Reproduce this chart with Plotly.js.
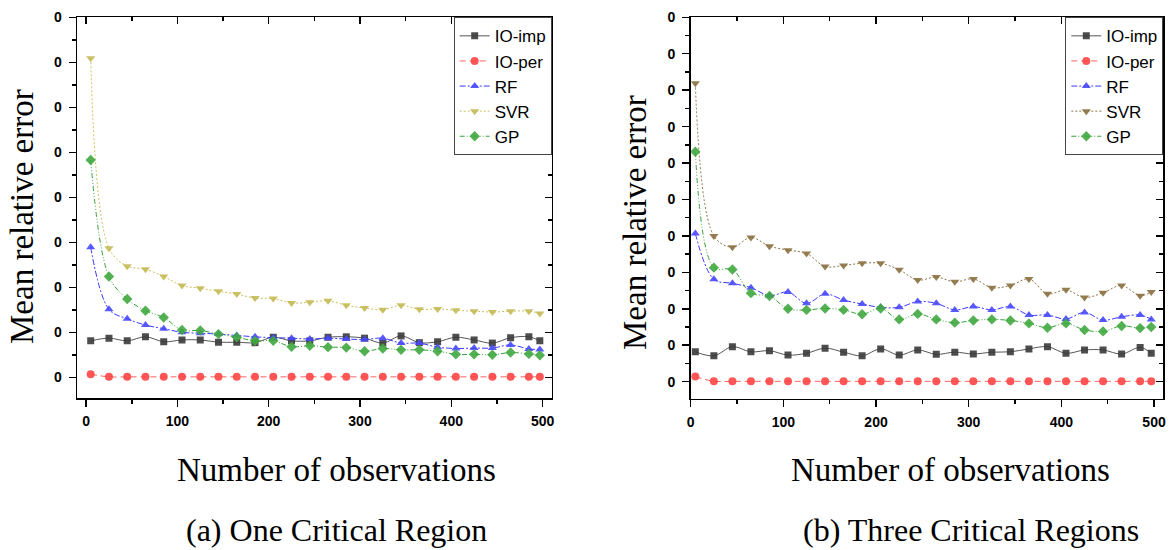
<!DOCTYPE html>
<html>
<head>
<meta charset="utf-8">
<script src="https://cdn.plot.ly/plotly-3.0.1.min.js"></script>
<style>html,body{margin:0;padding:0;background:#fff;}#chart{width:1171px;height:550px;}</style>
</head>
<body>
<div id="chart"></div>
<script>
// Number of observations (marker positions)
const observations = [5,25,45,65,85,105,125,145,165,185,205,225,245,265,285,305,325,345,365,385,405,425,445,465,485,497];

// (a) One Critical Region
const ioImpA = [0.081,0.087,0.081,0.090,0.079,0.083,0.083,0.078,0.078,0.077,0.089,0.081,0.081,0.089,0.090,0.087,0.076,0.092,0.077,0.079,0.089,0.083,0.076,0.088,0.090,0.081];
const ioPerA = [0.007,0.001,0.001,0.001,0.001,0.001,0.001,0.001,0.001,0.001,0.001,0.001,0.001,0.001,0.001,0.001,0.001,0.001,0.001,0.001,0.001,0.001,0.001,0.001,0.001,0.001];
const rfA    = [0.289,0.151,0.130,0.116,0.108,0.100,0.098,0.096,0.093,0.090,0.088,0.087,0.085,0.087,0.085,0.084,0.087,0.076,0.076,0.067,0.064,0.065,0.065,0.072,0.063,0.062];
const svrA   = [0.709,0.287,0.247,0.240,0.224,0.204,0.198,0.191,0.185,0.176,0.175,0.165,0.167,0.170,0.160,0.154,0.150,0.160,0.151,0.152,0.149,0.147,0.145,0.147,0.147,0.142];
const gpA    = [0.483,0.224,0.174,0.148,0.133,0.105,0.104,0.096,0.089,0.081,0.081,0.068,0.070,0.067,0.066,0.058,0.064,0.061,0.061,0.058,0.051,0.051,0.050,0.055,0.052,0.049];

// (b) Three Critical Regions
const ioImpB = [0.082,0.071,0.096,0.082,0.085,0.073,0.078,0.092,0.081,0.071,0.090,0.073,0.087,0.075,0.081,0.076,0.081,0.082,0.090,0.096,0.078,0.087,0.087,0.076,0.094,0.078];
const ioPerB = [0.014,0.001,0.001,0.001,0.001,0.001,0.001,0.001,0.001,0.001,0.001,0.001,0.001,0.001,0.001,0.001,0.001,0.001,0.001,0.001,0.001,0.001,0.001,0.001,0.001,0.001];
const rfB    = [0.407,0.281,0.270,0.258,0.236,0.246,0.215,0.241,0.224,0.213,0.204,0.204,0.220,0.215,0.197,0.206,0.197,0.206,0.183,0.183,0.172,0.190,0.169,0.178,0.183,0.171];
const svrB   = [0.819,0.400,0.369,0.396,0.372,0.361,0.352,0.316,0.319,0.325,0.325,0.307,0.279,0.287,0.274,0.282,0.258,0.264,0.282,0.241,0.252,0.231,0.244,0.264,0.236,0.246];
const gpB    = [0.631,0.313,0.308,0.243,0.235,0.200,0.197,0.201,0.197,0.185,0.201,0.171,0.186,0.171,0.162,0.168,0.171,0.168,0.160,0.148,0.160,0.142,0.138,0.153,0.147,0.150];

const seriesNames = ['IO-imp','IO-per','RF','SVR','GP'];
const yTickValsA = [0,0.1,0.2,0.3,0.4,0.5,0.6,0.7,0.8];
const yTickValsB = [0,0.1,0.2,0.3,0.4,0.5,0.6,0.7,0.8,0.9,1.0];
const yTickText = '0';
const xTickVals = [0,100,200,300,400,500];

const styles = [
  {line:{color:'#555555',width:1,dash:'solid',shape:'spline'}, marker:{symbol:'square',size:7,color:'#3a3a3a'}},
  {line:{color:'#ff6060',width:1,dash:'6px,4px',shape:'spline'}, marker:{symbol:'circle',size:8,color:'#ff4545'}},
  {line:{color:'#3a3aff',width:1,dash:'6px,2px,2px,2px',shape:'spline'}, marker:{symbol:'triangle-up',size:8,color:'#4848ff'}},
  {line:{color:'#c8bf5a',width:1,dash:'2px,2px',shape:'spline'}, marker:{symbol:'triangle-down',size:8,color:'#c4ba55'}},
  {line:{color:'#3aa03a',width:1,dash:'5px,2px,1px,2px,1px,2px',shape:'spline'}, marker:{symbol:'diamond',size:8,color:'#40a840'}}
];
const svrBrown = {line:{color:'#8c7346',width:1,dash:'2px,2px',shape:'spline'}, marker:{symbol:'triangle-down',size:8,color:'#8a7040'}};

function mk(name, y, st, xa, ya, legend){
  return {x:observations, y:y, name:name, type:'scatter', mode:'lines+markers',
    xaxis:xa, yaxis:ya, legend:legend, line:st.line,
    marker:Object.assign({opacity:0.9}, st.marker)};
}
const dataA = [ioImpA, ioPerA, rfA, svrA, gpA];
const dataB = [ioImpB, ioPerB, rfB, svrB, gpB];
const traces = [];
dataA.forEach((y,i)=>traces.push(mk(seriesNames[i], y, styles[i], 'x','y','legend')));
dataB.forEach((y,i)=>traces.push(mk(seriesNames[i], y, i===3?svrBrown:styles[i], 'x2','y2','legend2')));
// empty traces so that the mirror axes (inward ticks on top / right) are drawn
traces.push({x:[null],y:[null],xaxis:'x3',yaxis:'y',showlegend:false,hoverinfo:'skip',type:'scatter',mode:'lines'});
traces.push({x:[null],y:[null],xaxis:'x',yaxis:'y3',showlegend:false,hoverinfo:'skip',type:'scatter',mode:'lines'});
traces.push({x:[null],y:[null],xaxis:'x4',yaxis:'y2',showlegend:false,hoverinfo:'skip',type:'scatter',mode:'lines'});
traces.push({x:[null],y:[null],xaxis:'x2',yaxis:'y4',showlegend:false,hoverinfo:'skip',type:'scatter',mode:'lines'});

const tickFont = {family:'Liberation Sans, Arial, sans-serif', size:14, color:'#000', weight:'bold'};
const serif = {family:'Liberation Serif, Times New Roman, serif', size:33, color:'#000'};
const serifCap = {family:'Liberation Serif, Times New Roman, serif', size:32, color:'#000'};

function xAx(domain, range, anchor){
  return {domain:domain, range:range, anchor:anchor, showline:true, linecolor:'#000', linewidth:1.5,
    ticks:'outside', ticklen:7, tickwidth:1.5, tickcolor:'#000', tickmode:'array', tickvals:xTickVals,
    minor:{ticks:'outside', ticklen:4, tickwidth:1.5, tickcolor:'#000', tickmode:'linear', tick0:0, dtick:50},
    showgrid:false, zeroline:false, tickfont:tickFont, ticklabelstandoff:3, fixedrange:true};
}
function yAx(domain, range, anchor, vals){
  return {domain:domain, range:range, anchor:anchor, showline:true, linecolor:'#000', linewidth:1.5,
    ticks:'outside', ticklen:7, tickwidth:1.5, tickcolor:'#000', tickmode:'array', tickvals:vals,
    ticktext:vals.map(()=>yTickText),
    minor:{ticks:'outside', ticklen:4, tickwidth:1.5, tickcolor:'#000', tickmode:'linear', tick0:0, dtick:0.05},
    showgrid:false, zeroline:false, tickfont:tickFont, ticklabelstandoff:4, fixedrange:true};
}
function xMirror(range, over, anchor){
  return {overlaying:over, anchor:anchor, side:'top', range:range, showline:true, linecolor:'#000', linewidth:1.5,
    ticks:'inside', ticklen:7, tickwidth:1.5, tickcolor:'#000', tickmode:'array', tickvals:xTickVals,
    minor:{ticks:'inside', ticklen:4, tickwidth:1.5, tickcolor:'#000', tickmode:'linear', tick0:0, dtick:50},
    showticklabels:false, showgrid:false, zeroline:false, fixedrange:true};
}
function yMirror(range, over, anchor, vals){
  return {overlaying:over, anchor:anchor, side:'right', range:range, showline:true, linecolor:'#000', linewidth:1.5,
    ticks:'inside', ticklen:7, tickwidth:1.5, tickcolor:'#000', tickmode:'array', tickvals:vals,
    minor:{ticks:'inside', ticklen:4, tickwidth:1.5, tickcolor:'#000', tickmode:'linear', tick0:0, dtick:0.05},
    showticklabels:false, showgrid:false, zeroline:false, fixedrange:true};
}

const xRangeA = [-10,510], yRangeA = [-0.046,0.8];
const xRangeB = [0,510], yRangeB = [-0.0467,1.0];
const domXA = [0.06576,0.47113], domYA = [0.27636,0.96855];
const domXB = [0.58984,0.99342], domYB = [0.27509,0.96855];

const legendStyle = {font:{family:'Liberation Sans, Arial, sans-serif', size:17, color:'#000'},
  bgcolor:'#fff', bordercolor:'#444', borderwidth:1, yanchor:'top', xanchor:'right',
  tracegroupgap:0, itemwidth:30};

const layout = {
  width:1171, height:550, autosize:false,
  margin:{l:0,r:0,t:0,b:0,pad:0},
  paper_bgcolor:'#fff', plot_bgcolor:'#fff',
  showlegend:true,
  xaxis: xAx(domXA, xRangeA, 'y'),
  yaxis: yAx(domYA, yRangeA, 'x', yTickValsA),
  xaxis2: xAx(domXB, xRangeB, 'y2'),
  yaxis2: yAx(domYB, yRangeB, 'x2', yTickValsB),
  xaxis3: xMirror(xRangeA, 'x', 'y'),
  yaxis3: yMirror(yRangeA, 'y', 'x', yTickValsA),
  xaxis4: xMirror(xRangeB, 'x2', 'y2'),
  yaxis4: yMirror(yRangeB, 'y2', 'x2', yTickValsB),
  legend: Object.assign({x:domXA[1], y:domYA[1]}, legendStyle),
  legend2: Object.assign({x:domXB[1], y:domYB[1]}, legendStyle),
  annotations:[
    {text:'Mean relative error', xref:'paper', yref:'paper', x:22/1171, y:1-217/550, textangle:-90, showarrow:false, font:serif, xanchor:'center', yanchor:'middle'},
    {text:'Mean relative error', xref:'paper', yref:'paper', x:635/1171, y:1-223/550, textangle:-90, showarrow:false, font:serif, xanchor:'center', yanchor:'middle'},
    {text:'Number of observations', xref:'paper', yref:'paper', x:336/1171, y:1-470/550, showarrow:false, font:serif, xanchor:'center', yanchor:'middle'},
    {text:'Number of observations', xref:'paper', yref:'paper', x:950/1171, y:1-470/550, showarrow:false, font:serif, xanchor:'center', yanchor:'middle'},
    {text:'(a) One Critical Region', xref:'paper', yref:'paper', x:337/1171, y:1-530/550, showarrow:false, font:serifCap, xanchor:'center', yanchor:'middle'},
    {text:'(b) Three Critical Regions', xref:'paper', yref:'paper', x:971/1171, y:1-530/550, showarrow:false, font:serifCap, xanchor:'center', yanchor:'middle'}
  ]
};

Plotly.newPlot('chart', traces, layout, {staticPlot:true, displayModeBar:false});
</script>
</body>
</html>
